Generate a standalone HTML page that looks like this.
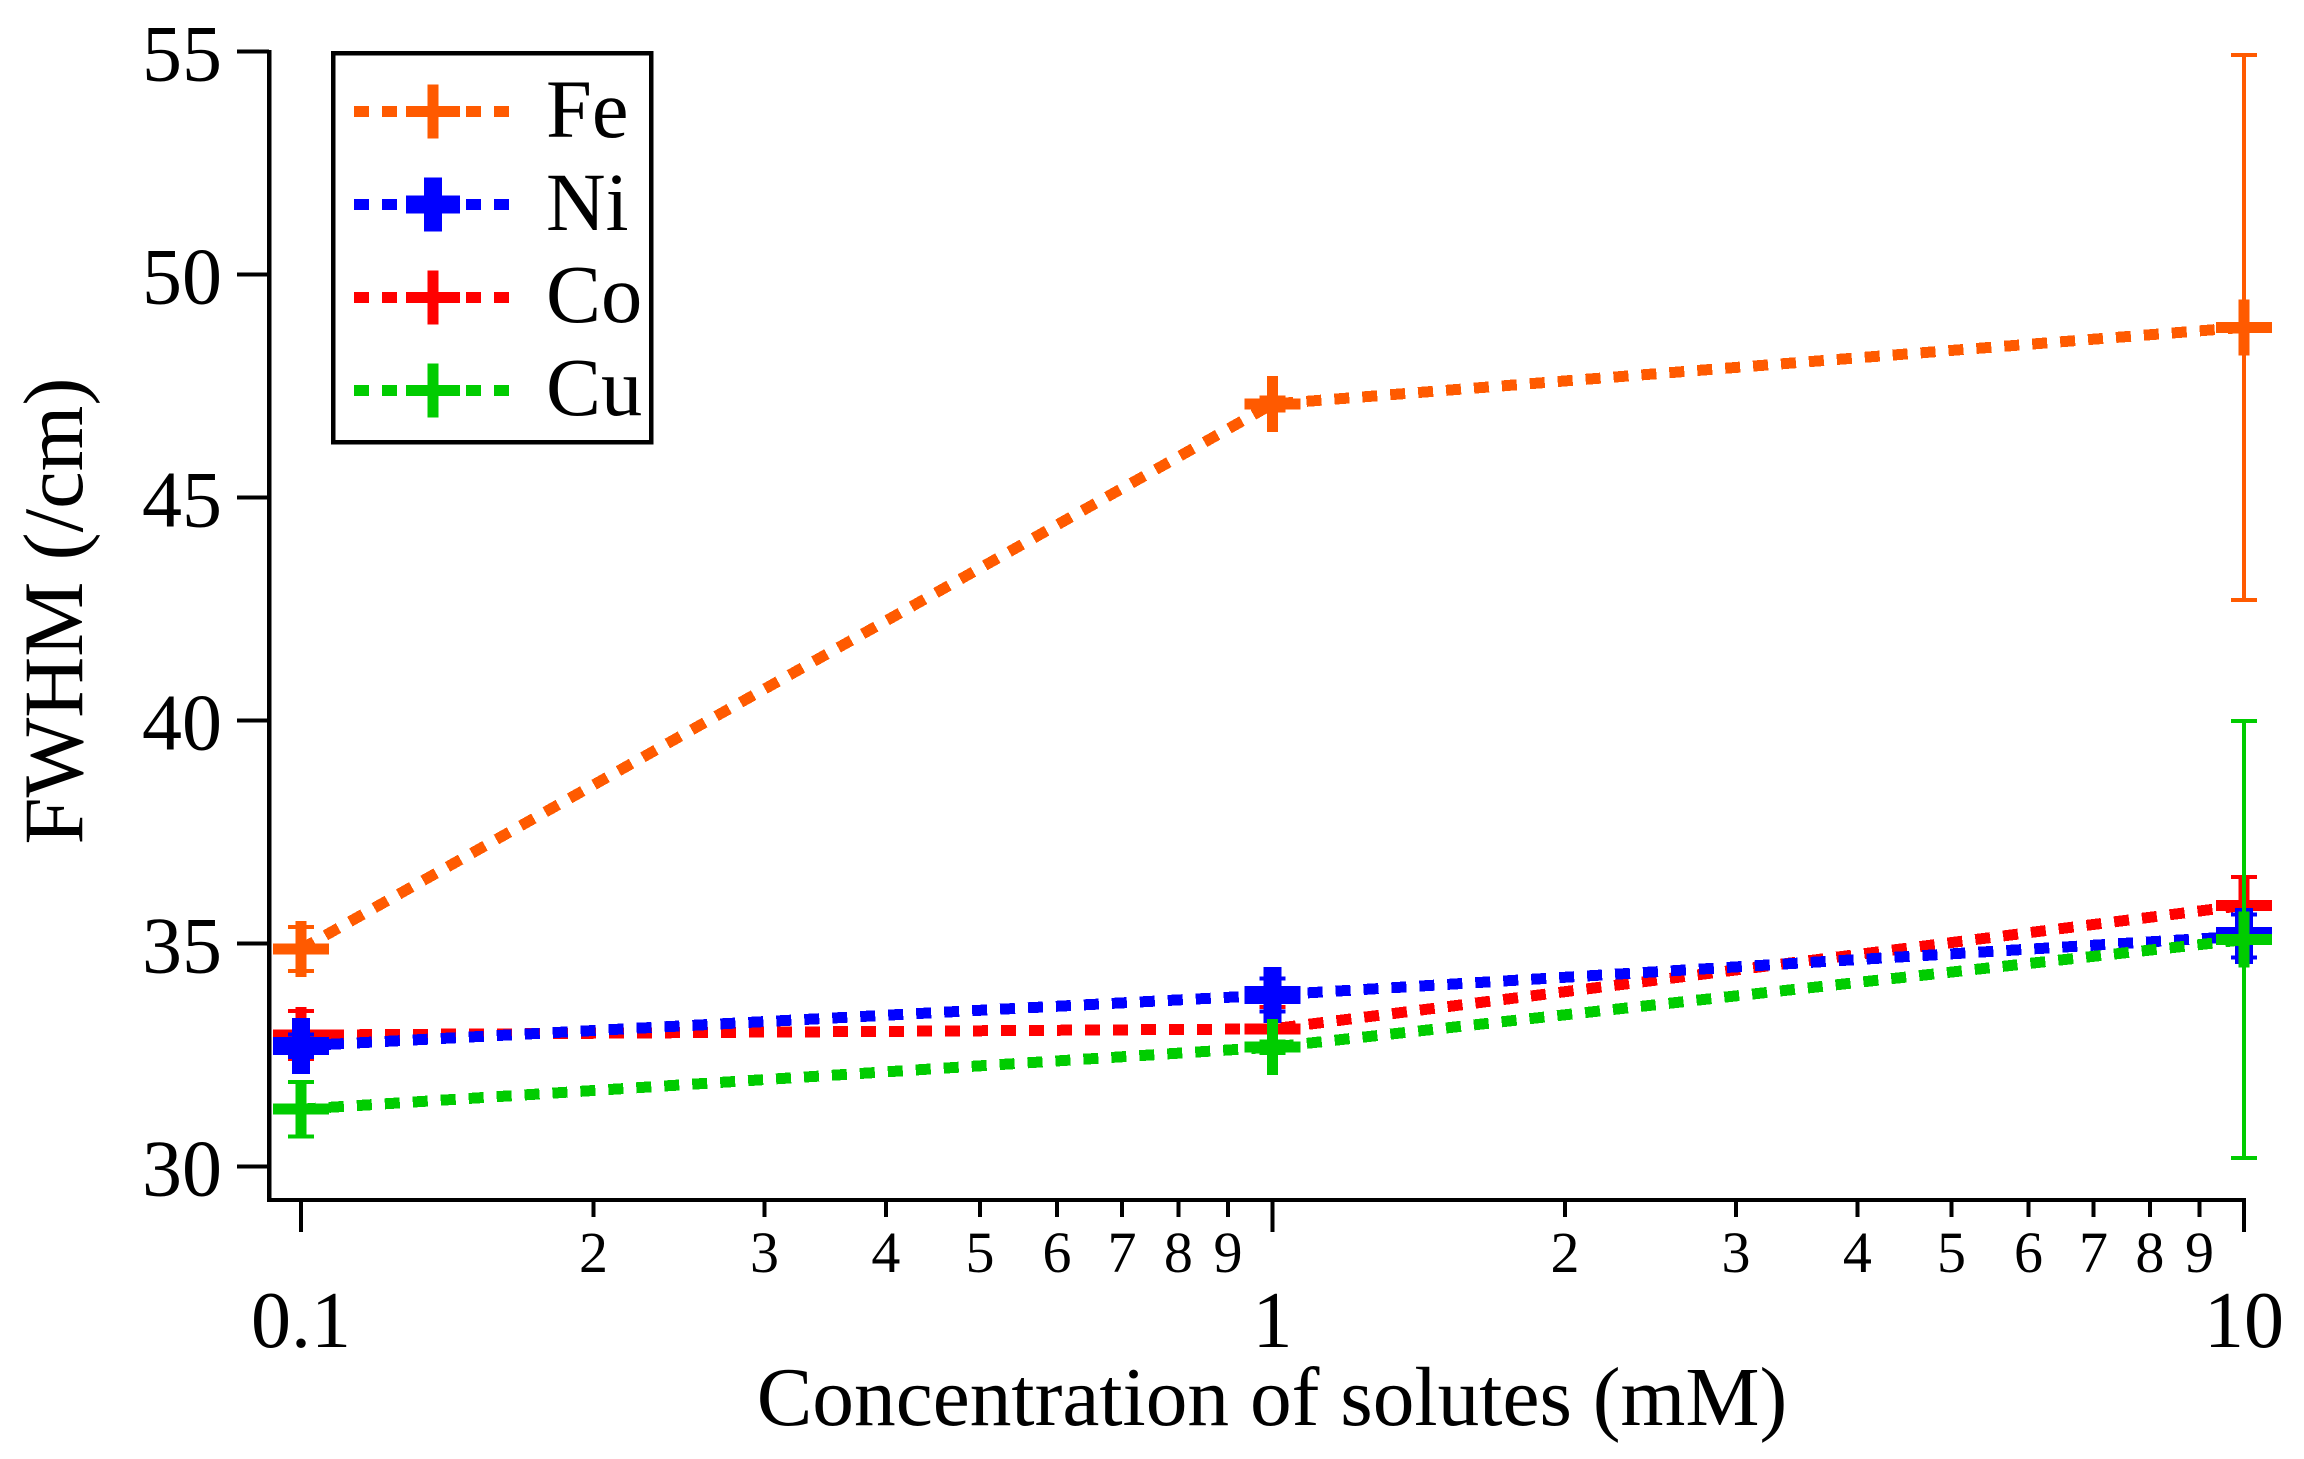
<!DOCTYPE html>
<html lang="en">
<head>
<meta charset="utf-8">
<title>FWHM vs concentration of solutes</title>
<style>
  html, body { margin: 0; padding: 0; background: #fff; }
  body { width: 2304px; height: 1459px; overflow: hidden; }
  svg { display: block; }
  text { font-family: "Liberation Serif", serif; fill: #000; }
  .geom line, .geom path, .geom rect { shape-rendering: crispEdges; }
</style>
</head>
<body>
<svg id="chart" class="geom" xmlns="http://www.w3.org/2000/svg" width="2304" height="1459" viewBox="0 0 2304 1459">
  <rect x="0" y="0" width="2304" height="1459" fill="#ffffff"/>
  <g id="axes"></g>
  <g id="series"></g>
  <text transform="translate(82 611) rotate(-90)" text-anchor="middle" font-size="84.5">FWHM (/cm)</text>
  <text x="1272" y="1425" text-anchor="middle" font-size="83.4">Concentration of solutes (mM)</text>
  <g id="legend">
    <rect x="333" y="53" width="318" height="389" fill="#ffffff" stroke="#000000" stroke-width="4.5"/>
    <g id="legend-keys"></g>
    <text x="546" y="137" font-size="82.5">Fe</text>
    <text x="546" y="230" font-size="82.5">Ni</text>
    <text x="546" y="322" font-size="82.5">Co</text>
    <text x="546" y="415" font-size="82.5">Cu</text>
  </g>
</svg>
<script>
// ---- chart data ----
const concentrations = [0.1, 1, 10];
const feValues = [34.88, 47.1, 48.82];
const feErrors = [0.49, 0.15, 6.11];
const coValues = [32.95, 33.09, 35.86];
const coErrors = [0.54, 0.49, 0.63];
const niValues = [32.71, 33.85, 35.17];
const niErrors = [0.25, 0.37, 0.48];
const cuValues = [31.29, 32.68, 35.09];
const cuErrors = [0.61, 0.13, 4.9];
const yTickValues = [30, 35, 40, 45, 50, 55];
const xMajorTicks = [0.1, 1, 10];
const xMajorLabels = ["0.1", "1", "10"];
const xMinorTicks = [0.2, 0.3, 0.4, 0.5, 0.6, 0.7, 0.8, 0.9, 2, 3, 4, 5, 6, 7, 8, 9];
const xMinorLabels = ["2", "3", "4", "5", "6", "7", "8", "9", "2", "3", "4", "5", "6", "7", "8", "9"];

// ---- axis functions ----
function xScale(v) { return 1272.5 + Math.log10(v) * 971.5; }
function yScale(v) { return 1166.7 - (v - 30) * 44.6; }

const SVG_NS = "http://www.w3.org/2000/svg";
const axesLayer = document.getElementById("axes");
const seriesLayer = document.getElementById("series");
const legendKeys = document.getElementById("legend-keys");

function drawLine(parent, x1, y1, x2, y2, color, width) {
  const l = document.createElementNS(SVG_NS, "line");
  l.setAttribute("x1", x1);
  l.setAttribute("y1", y1);
  l.setAttribute("x2", x2);
  l.setAttribute("y2", y2);
  l.setAttribute("stroke", color);
  l.setAttribute("stroke-width", width);
  parent.appendChild(l);
  return l;
}
function drawText(parent, x, y, size, anchor, str) {
  const t = document.createElementNS(SVG_NS, "text");
  t.setAttribute("x", x);
  t.setAttribute("y", y);
  t.setAttribute("font-size", size);
  t.setAttribute("text-anchor", anchor);
  t.textContent = str;
  parent.appendChild(t);
  return t;
}
function drawDashed(parent, d, color) {
  const p = document.createElementNS(SVG_NS, "path");
  p.setAttribute("d", d);
  p.setAttribute("fill", "none");
  p.setAttribute("stroke", color);
  p.setAttribute("stroke-width", 11);
  p.setAttribute("stroke-dasharray", "15 13");
  parent.appendChild(p);
  return p;
}
function drawMarker(parent, cx, cy, arm, thick, color, key) {
  const h = drawLine(parent, cx - arm, cy, cx + arm, cy, color, thick);
  
  
  const v = drawLine(parent, cx, cy - arm, cx, cy + arm, color, thick);
  
  
}

// ---- axes ----
const yAxisLine = drawLine(axesLayer, 269, 50, 269, 1202, "#000", 4.5);


const xAxisLine = drawLine(axesLayer, 267, 1200, 2246, 1200, "#000", 4);



yTickValues.forEach(function (v) {
  const y = yScale(v);
  const tick = drawLine(axesLayer, 237, y, 269, y, "#000", 4);
  
  
  const label = drawText(axesLayer, 222, y + 29, 80, "end", String(v));
  
  
});
xMajorTicks.forEach(function (v, i) {
  const x = xScale(v);
  const tick = drawLine(axesLayer, x, 1200, x, 1232, "#000", 4);
  
  
  const label = drawText(axesLayer, x, 1347, 80, "middle", xMajorLabels[i]);
  
  
});
xMinorTicks.forEach(function (v, i) {
  const x = xScale(v);
  const tick = drawLine(axesLayer, x, 1200, x, 1217, "#000", 4);
  
  
  const label = drawText(axesLayer, x, 1272, 58, "middle", xMinorLabels[i]);
  
  
});

// ---- series ----
function drawSeries(key, values, errors, color, thick) {
  const g = document.createElementNS(SVG_NS, "g");
  
  
  seriesLayer.appendChild(g);
  const d = values.map(function (v, i) {
    return (i ? "L" : "M") + xScale(concentrations[i]).toFixed(2) + " " + yScale(v).toFixed(2);
  }).join(" ");
  const path = drawDashed(g, d, color);
  
  
  values.forEach(function (v, i) {
    const x = xScale(concentrations[i]);
    const top = yScale(v + errors[i]);
    const bottom = yScale(v - errors[i]);
    const stem = drawLine(g, x, top, x, bottom, color, 4);
    
    
    const capTop = drawLine(g, x - 13, top, x + 13, top, color, 4);
    
    
    const capBottom = drawLine(g, x - 13, bottom, x + 13, bottom, color, 4);
    
    
    drawMarker(g, x, yScale(v), 28, thick, color, key);
  });
}
drawSeries("fe", feValues, feErrors, "#ff5a00", 11);
drawSeries("co", coValues, coErrors, "#ff0000", 11);
drawSeries("ni", niValues, niErrors, "#0000ff", 18);
drawSeries("cu", cuValues, cuErrors, "#00cc00", 11);

// ---- legend keys ----
function drawLegendKey(key, y, color, thick) {
  const path = drawDashed(legendKeys, "M354 " + y + " L509 " + y, color);
  
  
  drawMarker(legendKeys, 433, y, 27, thick, color, 'legend-' + key);
}
drawLegendKey("fe", 111.5, "#ff5a00", 11);
drawLegendKey("ni", 204.5, "#0000ff", 18);
drawLegendKey("co", 297.5, "#ff0000", 11);
drawLegendKey("cu", 390.5, "#00cc00", 11);
</script>
</body>
</html>
